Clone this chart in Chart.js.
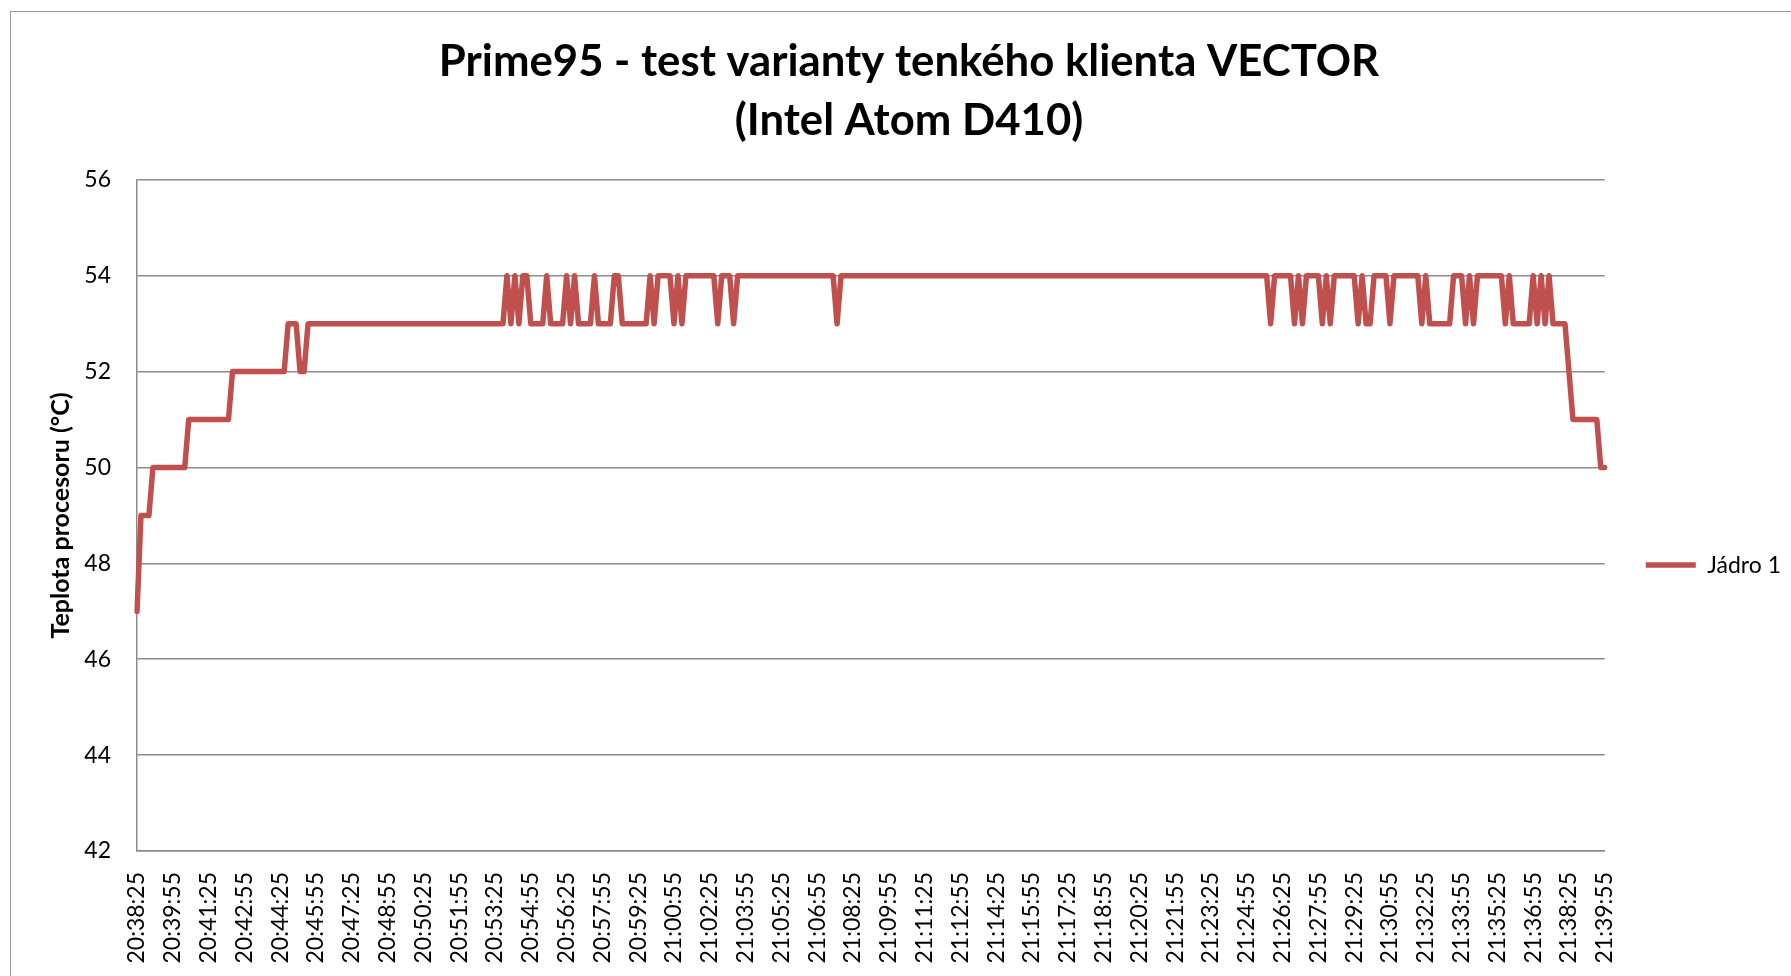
<!DOCTYPE html>
<html>
<head>
<meta charset="utf-8">
<title>Prime95 - test varianty tenkého klienta VECTOR</title>
<script src="https://cdn.jsdelivr.net/npm/chart.js@4.4.1/dist/chart.umd.min.js"></script>
<style>
    body { margin: 0; background: #fff; overflow: hidden; }
    #frame { position: absolute; left: 10px; top: 11px; width: 2000px; height: 2000px; border: 1.5px solid #9a9a9a; }
    #wrap { position: absolute; left: 0; top: 0; width: 1791px; height: 976px; }
</style>
</head>
<body>
<div id="frame"></div>
<div id="wrap"><canvas id="chart"></canvas></div>
<script>
// popisky osy X (každých 90 s, měření po 10 s)
const tickLabels = [
    '20:38:25', '20:39:55', '20:41:25', '20:42:55', '20:44:25', '20:45:55', '20:47:25',
    '20:48:55', '20:50:25', '20:51:55', '20:53:25', '20:54:55', '20:56:25', '20:57:55',
    '20:59:25', '21:00:55', '21:02:25', '21:03:55', '21:05:25', '21:06:55', '21:08:25',
    '21:09:55', '21:11:25', '21:12:55', '21:14:25', '21:15:55', '21:17:25', '21:18:55',
    '21:20:25', '21:21:55', '21:23:25', '21:24:55', '21:26:25', '21:27:55', '21:29:25',
    '21:30:55', '21:32:25', '21:33:55', '21:35:25', '21:36:55', '21:38:25', '21:39:55'
];
const samplesPerTick = 9;

const seriesName = 'Jádro 1';
const jadro1 = [
    47,49,49,49,50,50,50,50,50,50,
    50,50,50,51,51,51,51,51,51,51,
    51,51,51,51,52,52,52,52,52,52,
    52,52,52,52,52,52,52,52,53,53,
    53,52,52,53,53,53,53,53,53,53,
    53,53,53,53,53,53,53,53,53,53,
    53,53,53,53,53,53,53,53,53,53,
    53,53,53,53,53,53,53,53,53,53,
    53,53,53,53,53,53,53,53,53,53,
    53,53,53,54,53,54,53,54,54,53,
    53,53,53,54,53,53,53,53,54,53,
    54,53,53,53,53,54,53,53,53,53,
    54,54,53,53,53,53,53,53,53,54,
    53,54,54,54,54,53,54,53,54,54,
    54,54,54,54,54,54,53,54,54,54,
    53,54,54,54,54,54,54,54,54,54,
    54,54,54,54,54,54,54,54,54,54,
    54,54,54,54,54,54,53,54,54,54,
    54,54,54,54,54,54,54,54,54,54,
    54,54,54,54,54,54,54,54,54,54,
    54,54,54,54,54,54,54,54,54,54,
    54,54,54,54,54,54,54,54,54,54,
    54,54,54,54,54,54,54,54,54,54,
    54,54,54,54,54,54,54,54,54,54,
    54,54,54,54,54,54,54,54,54,54,
    54,54,54,54,54,54,54,54,54,54,
    54,54,54,54,54,54,54,54,54,54,
    54,54,54,54,54,54,54,54,54,54,
    54,54,54,54,54,53,54,54,54,54,
    54,53,54,53,54,54,54,54,53,54,
    53,54,54,54,54,54,54,53,54,53,
    53,54,54,54,54,53,54,54,54,54,
    54,54,54,53,54,53,53,53,53,53,
    53,54,54,54,53,54,53,54,54,54,
    54,54,54,54,53,54,53,53,53,53,
    53,54,53,54,53,54,53,53,53,53,
    52,51,51,51,51,51,51,51,50,50
];

const yMin = 42;
const yMax = 56;
const yStep = 2;

const labels = jadro1.map((v, i) => i % samplesPerTick === 0 ? tickLabels[i / samplesPerTick] : '');

const gridColor = '#8c8c8c';
const lineColor = '#c0504d';
const fontFamily = 'Lato, "Open Sans", sans-serif';

const ctx = document.getElementById('chart').getContext('2d');
new Chart(ctx, {
    type: 'line',
    data: {
        labels: labels,
        datasets: [{
            label: seriesName,
            data: jadro1,
            borderColor: lineColor,
            backgroundColor: lineColor,
            borderWidth: 5.5,
            pointRadius: 0,
            tension: 0,
            borderJoinStyle: 'round',
            borderCapStyle: 'round',
            fill: false
        }]
    },
    options: {
        responsive: true,
        maintainAspectRatio: false,
        animation: false,
        layout: {
            padding: { left: 27, top: 0, bottom: 0, right: 0 }
        },
        plugins: {
            title: {
                display: true,
                text: ['Prime95 - test varianty tenkého klienta VECTOR', '(Intel Atom D410)'],
                color: '#000',
                font: { family: fontFamily, size: 43.7, weight: 'bold', lineHeight: 1.36 },
                padding: { top: 32, bottom: 29 }
            },
            legend: {
                position: 'right',
                title: {
                    display: true,
                    text: '',
                    font: { size: 1 },
                    padding: { top: 153, bottom: 0 }
                },
                labels: {
                    usePointStyle: true,
                    pointStyle: 'line',
                    pointStyleWidth: 50,
                    boxHeight: 20,
                    padding: 10,
                    color: '#000',
                    font: { family: fontFamily, size: 23 }
                }
            },
            tooltip: { enabled: false }
        },
        scales: {
            x: {
                grid: { display: false, drawTicks: false },
                border: { display: true, color: gridColor, width: 1.5 },
                ticks: {
                    autoSkip: false,
                    maxRotation: 90,
                    minRotation: 90,
                    padding: 21,
                    color: '#000',
                    font: { family: fontFamily, size: 23 }
                },
                afterFit: (scale) => { scale.height = 125; }
            },
            y: {
                min: yMin,
                max: yMax,
                grid: { color: gridColor, lineWidth: 1.5, drawTicks: false },
                border: { display: true, color: gridColor, width: 1.5 },
                ticks: {
                    stepSize: yStep,
                    padding: 26,
                    color: '#000',
                    font: { family: fontFamily, size: 23 }
                },
                title: {
                    display: true,
                    text: 'Teplota procesoru (°C)',
                    color: '#000',
                    font: { family: fontFamily, size: 25, weight: 'bold' },
                    padding: { top: 19, bottom: 0 }
                },
                afterFit: (scale) => { scale.width = 110; }
            },
            // prázdná mezera mezi grafem a legendou
            gap: {
                position: 'right',
                display: true,
                grid: { display: false, drawTicks: false },
                border: { display: false },
                ticks: { display: false },
                afterFit: (scale) => { scale.width = 31; }
            }
        }
    }
});
</script>
</body>
</html>
